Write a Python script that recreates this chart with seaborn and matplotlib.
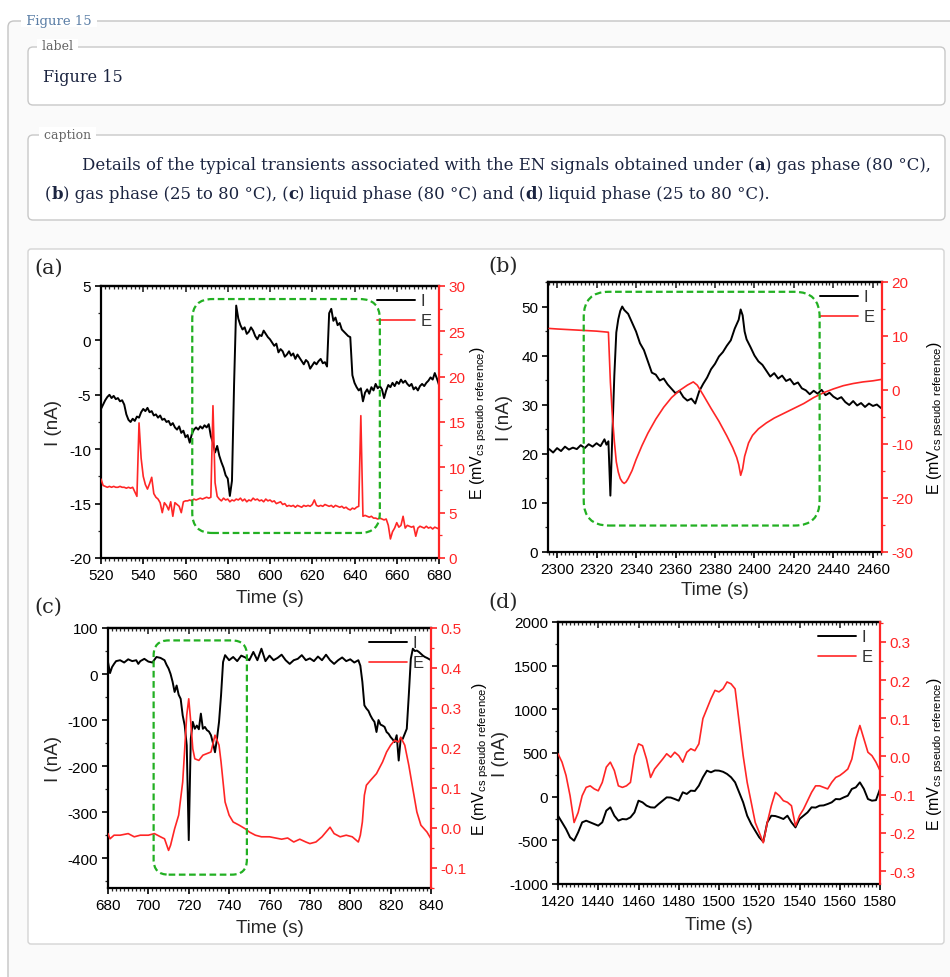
import numpy as np
import matplotlib
matplotlib.use("Agg")
import matplotlib.pyplot as plt
import seaborn as sns
from matplotlib.patches import FancyBboxPatch
from matplotlib.transforms import IdentityTransform
from matplotlib.ticker import MultipleLocator, FormatStrFormatter

# ---------------- data ----------------
# (a) gas phase, 80 C  -- sampled every second
a_time = np.arange(520, 681)
a_I = [-6.3, -5.9, -5.5, -5.2, -5.0, -5.3, -5.1, -5.4, -5.3, -5.6,
       -5.5, -5.9, -6.8, -7.3, -7.5, -7.2, -7.4, -7.0, -7.1, -6.6,
       -6.3, -6.5, -6.2, -6.6, -6.5, -6.9, -6.8, -7.1, -6.9, -7.3,
       -7.2, -7.5, -7.4, -7.8, -7.6, -8.0, -8.2, -7.9, -8.5, -8.3,
       -8.9, -8.7, -9.4, -8.6, -8.2, -8.0, -8.2, -7.9, -8.1, -7.8,
       -8.0, -7.7, -8.8, -9.4, -10.3, -9.7, -10.6, -11.2, -11.7, -12.4,
       -12.7, -14.3, -12.9, -4.0, 3.2, 2.0, 1.4, 1.0, 1.2, 0.6,
       0.8, 1.2, 0.9, 0.4, 0.1, 0.5, 0.4, 0.9, 0.6, 0.3,
       0.1, -0.2, -0.5, -0.3, -1.1, -0.8, -1.0, -1.5, -1.3, -1.0,
       -1.4, -1.2, -1.7, -1.3, -1.6, -1.9, -2.2, -1.8, -2.0, -2.6,
       -2.3, -2.0, -2.2, -1.9, -1.7, -2.1, -2.0, -2.4, 2.5, 2.9,
       1.8, 2.1, 1.4, 1.6, 1.0, 0.8, 0.6, 0.4, 0.3, -3.2,
       -3.9, -4.3, -4.6, -4.4, -5.6, -4.8, -4.5, -4.9, -4.3, -4.6,
       -4.0, -4.4, -4.2, -4.5, -5.3, -4.6, -4.1, -4.3, -3.9, -4.2,
       -3.8, -4.0, -3.6, -3.9, -3.7, -4.0, -4.2, -4.0, -4.5, -4.3,
       -4.6, -4.2, -4.0, -4.2, -3.9, -3.7, -3.4, -3.6, -3.0, -3.5,
       -4.1]
a_E = [8.7, 8.0, 7.9, 7.8, 7.9, 7.8, 7.9, 7.8, 7.8, 7.9,
       7.8, 7.8, 7.7, 7.8, 7.7, 7.8, 7.3, 6.8, 14.9, 11.0,
       9.0, 8.1, 7.6, 8.2, 8.9, 7.1, 6.7, 6.5, 6.1, 5.0,
       6.1, 5.8, 5.3, 6.2, 4.6, 6.1, 5.9, 5.7, 5.0, 6.2,
       6.3, 6.3, 6.4, 6.3, 6.5, 6.4, 6.5, 6.6, 6.5, 6.6,
       6.7, 6.6, 6.7, 16.8, 8.3, 6.8, 6.5, 6.3, 6.6, 6.4,
       6.5, 6.2, 6.4, 6.3, 6.5, 6.4, 6.6, 6.3, 6.5, 6.2,
       6.4, 6.3, 6.6, 6.4, 6.5, 6.3, 6.4, 6.2, 6.5, 6.3,
       6.4, 6.2, 6.3, 6.0, 6.1, 6.2, 5.9, 6.0, 5.7, 5.8,
       5.7, 5.8, 5.6, 5.8, 5.7, 5.6, 5.8, 5.7, 5.8, 5.7,
       5.9, 6.4, 5.8, 5.7, 5.8, 5.7, 5.9, 5.8, 5.7, 5.8,
       5.6, 5.8, 5.7, 5.6, 5.7, 5.5, 5.6, 5.4, 5.3, 5.5,
       5.4, 5.6, 5.7, 15.7, 4.6, 4.7, 4.6, 4.5, 4.6, 4.4,
       4.4, 4.3, 4.4, 4.3, 4.2, 4.3, 3.6, 2.1, 2.9, 3.3,
       3.9, 3.4, 3.6, 4.6, 3.3, 3.6, 3.5, 3.4, 3.5, 2.4,
       3.3, 3.5, 3.4, 3.3, 3.5, 3.3, 3.4, 3.2, 3.4, 3.3,
       3.2]
a_box = [563.2, 652.0, -17.7, 3.8]

# (b) gas phase, 25 to 80 C
b_I_time = [2296, 2298, 2300, 2302, 2304, 2306, 2308, 2310, 2312, 2314,
            2316, 2318, 2320, 2322, 2324, 2325, 2326, 2327, 2328, 2329,
            2330, 2331, 2332, 2333, 2334, 2336, 2338, 2340, 2342, 2344,
            2346, 2348, 2350, 2352, 2354, 2356, 2358, 2360, 2362, 2364,
            2366, 2368, 2370, 2372, 2374, 2376, 2378, 2380, 2382, 2384,
            2386, 2388, 2390, 2392, 2393, 2394, 2395, 2396, 2398, 2400,
            2402, 2404, 2406, 2408, 2410, 2412, 2414, 2416, 2418, 2420,
            2422, 2424, 2426, 2428, 2430, 2432, 2434, 2436, 2438, 2440,
            2442, 2444, 2446, 2448, 2450, 2452, 2454, 2456, 2458, 2460,
            2462, 2464, 2465]
b_I = [21.0, 20.3, 21.2, 20.6, 21.5, 20.9, 21.3, 21.0, 21.8, 21.2,
       22.0, 21.5, 22.2, 21.6, 23.0, 21.9, 22.6, 11.5, 24.0, 36.0,
       44.8, 47.5, 49.2, 50.1, 49.4, 48.6, 46.8, 45.0, 42.6, 41.2,
       38.9, 36.6, 36.2, 35.0, 35.4, 34.2, 33.3, 32.4, 32.9, 31.6,
       30.9, 31.3, 30.3, 32.8, 34.3, 35.6, 37.3, 38.4, 39.9, 40.8,
       42.1, 43.2, 45.6, 47.4, 49.5, 48.3, 45.0, 43.4, 41.8, 40.1,
       38.9, 38.2, 37.0, 35.8, 36.5, 35.4, 36.0, 34.9, 35.3, 34.2,
       34.6, 33.4, 33.0, 32.2, 32.9, 32.3, 33.1, 32.0, 32.5, 31.7,
       31.2, 31.6, 30.6, 30.0, 30.8, 29.9, 30.4, 29.6, 30.3, 29.8,
       30.1, 29.4, 29.6]
b_E_time = [2296, 2300, 2305, 2310, 2315, 2320, 2326, 2327, 2328, 2329,
            2330, 2331, 2332, 2333, 2334, 2335, 2336, 2338, 2340, 2343,
            2346, 2350, 2354, 2358, 2362, 2366, 2369, 2371, 2374, 2378,
            2382, 2386, 2389, 2391, 2392, 2393, 2394, 2395, 2397, 2399,
            2402, 2406, 2410, 2415, 2420, 2425, 2430, 2435, 2440, 2445,
            2450, 2455, 2460, 2465]
b_E = [11.4, 11.3, 11.2, 11.1, 11.0, 10.9, 10.7, 1.5, -4.7, -9.5,
       -13.3, -15.2, -16.4, -17.0, -17.3, -17.0, -16.4, -14.9, -12.9, -10.3,
       -8.0, -5.4, -3.2, -1.4, -0.1, 0.9, 1.5, 0.9, -0.9, -3.4,
       -5.8, -8.5, -10.7, -12.5, -13.8, -15.8, -14.6, -12.3, -9.8, -8.4,
       -7.2, -6.1, -5.2, -4.3, -3.4, -2.5, -1.4, -0.5, 0.2, 0.8,
       1.2, 1.5, 1.7, 2.0]
b_box = [2313.5, 2433.0, 5.4, 53.1]

# (c) liquid phase, 80 C
c_I_time = [680, 681, 682, 683, 684, 686, 688, 690, 692, 694,
            695, 696, 698, 700, 702, 704, 706, 708, 709, 710,
            711, 712, 713, 714, 715, 716, 717, 718, 719, 720,
            721, 722, 723, 724, 725, 726, 727, 728, 729, 730,
            731, 732, 733, 734, 735, 736, 737, 738, 740, 742,
            744, 746, 748, 750, 752, 754, 756, 758, 760, 762,
            764, 766, 768, 770, 772, 774, 776, 778, 780, 782,
            784, 786, 788, 790, 792, 794, 796, 798, 800, 802,
            804, 805, 806, 807, 808, 809, 810, 811, 812, 813,
            814, 815, 816, 817, 818, 819, 820, 821, 822, 823,
            824, 825, 826, 827, 828, 829, 830, 831, 832, 833,
            834, 835, 836, 837, 838, 840]
c_I = [26, 2, 15, 22, 28, 30, 25, 32, 28, 30,
       22, 28, 33, 27, 25, 37, 35, 30, 20, 12,
       0, -17, -39, -25, -45, -54, -90, -112, -155, -361,
       -141, -104, -119, -112, -120, -86, -119, -115, -122, -125,
       -133, -150, -170, -140, -104, -46, 26, 41, 30, 37,
       28, 40, 36, 30, 48, 30, 55, 28, 40, 30,
       35, 42, 30, 22, 30, 33, 41, 30, 34, 28,
       38, 30, 42, 30, 22, 30, 36, 28, 32, 25,
       30, 18, -17, -68, -75, -80, -90, -98, -104, -126,
       -100, -110, -112, -115, -126, -130, -137, -142, -148, -133,
       -188, -140, -141, -130, -119, -46, 33, 55, 50, 51,
       48, 44, 40, 37, 35, 30]
c_E_time = [680, 681, 683, 686, 690, 693, 696, 700, 703, 706,
            708, 710, 711, 713, 715, 717, 718, 719, 720, 721,
            722, 723, 725, 727, 729, 731, 733, 735, 736, 737,
            738, 740, 742, 745, 748, 750, 753, 756, 760, 763,
            766, 769, 772, 775, 778, 780, 783, 786, 788, 790,
            792, 795, 798, 801, 804, 805, 806, 807, 808, 810,
            813, 816, 818, 820, 822, 824, 825, 827, 829, 831,
            833, 835, 838, 840]
c_E = [-0.014, -0.027, -0.018, -0.018, -0.014, -0.022, -0.018, -0.018, -0.014, -0.022,
       -0.027, -0.056, -0.043, -0.002, 0.032, 0.115, 0.198, 0.282, 0.323, 0.265,
       0.198, 0.173, 0.169, 0.182, 0.186, 0.190, 0.232, 0.207, 0.165, 0.115,
       0.065, 0.032, 0.015, 0.007, -0.002, -0.010, -0.018, -0.022, -0.022, -0.025,
       -0.028, -0.025, -0.035, -0.028, -0.035, -0.039, -0.035, -0.022, -0.010, 0.002,
       -0.014, -0.022, -0.018, -0.022, -0.035, -0.018, 0.015, 0.082, 0.107, 0.119,
       0.136, 0.165, 0.190, 0.207, 0.219, 0.215, 0.227, 0.207, 0.157, 0.098,
       0.040, 0.007, -0.010, -0.027]
c_box = [702.6, 748.8, -436.0, 73.0]

# (d) liquid phase, 25 to 80 C
d_time = [1420, 1422, 1424, 1426, 1428, 1430, 1432, 1434, 1436, 1438,
          1440, 1442, 1444, 1446, 1448, 1450, 1452, 1454, 1456, 1458,
          1460, 1462, 1464, 1466, 1468, 1470, 1472, 1474, 1476, 1478,
          1480, 1482, 1484, 1486, 1488, 1490, 1492, 1494, 1496, 1498,
          1500, 1502, 1504, 1506, 1508, 1510, 1512, 1514, 1516, 1518,
          1520, 1522, 1524, 1526, 1528, 1530, 1532, 1534, 1536, 1538,
          1540, 1542, 1544, 1546, 1548, 1550, 1552, 1554, 1556, 1558,
          1560, 1562, 1564, 1566, 1568, 1570, 1572, 1574, 1576, 1578,
          1580]
d_I = [-218, -294, -371, -466, -504, -409, -294, -275, -294, -313,
       -332, -294, -160, -122, -218, -275, -256, -260, -237, -180,
       -46, -65, -103, -122, -125, -84, -46, -8, -10, -27,
       -46, 50, 31, 69, 65, 126, 222, 298, 279, 300,
       298, 285, 260, 222, 164, 50, -65, -218, -313, -390,
       -466, -516, -294, -218, -222, -237, -256, -218, -294, -352,
       -256, -218, -180, -122, -125, -103, -100, -84, -65, -27,
       -30, -8, 11, 88, 107, 164, 88, -27, -46, -40,
       88]
d_E = [0.007, -0.015, -0.050, -0.103, -0.173, -0.147, -0.103, -0.081, -0.077, -0.085,
       -0.090, -0.068, -0.028, -0.015, -0.037, -0.077, -0.081, -0.077, -0.068, 0.002,
       0.033, 0.028, -0.007, -0.055, -0.033, -0.020, -0.007, 0.007, -0.002, 0.011,
       0.002, -0.015, 0.011, 0.020, 0.015, 0.033, 0.099, 0.125, 0.151, 0.173,
       0.169, 0.177, 0.195, 0.190, 0.177, 0.090, 0.002, -0.068, -0.120, -0.173,
       -0.199, -0.226, -0.173, -0.129, -0.094, -0.103, -0.116, -0.120, -0.129, -0.182,
       -0.155, -0.138, -0.116, -0.094, -0.077, -0.077, -0.081, -0.085, -0.068, -0.055,
       -0.050, -0.042, -0.033, -0.007, 0.046, 0.081, 0.046, 0.011, 0.002, -0.015,
       -0.037]

caption_1 = [("Details of the typical transients associated with the EN signals obtained under (", "normal"),
             ("a", "bold"), (") gas phase (80 °C),", "normal")]
caption_2 = [("(", "normal"), ("b", "bold"), (") gas phase (25 to 80 °C), (", "normal"),
             ("c", "bold"), (") liquid phase (80 °C) and (", "normal"),
             ("d", "bold"), (") liquid phase (25 to 80 °C).", "normal")]

# ---------------- figure ----------------
sns.set_style("ticks")
plt.rcParams['font.family'] = ['Liberation Sans', 'DejaVu Sans']
plt.rcParams['axes.unicode_minus'] = False

W, H = 950, 978
fig = plt.figure(figsize=(W / 100, H / 100), dpi=100)
RED = '#ff2626'
SERIF = 'DejaVu Serif'


def px_box(x0, y0, x1, y1, r, ec, fc, lw=1.0):
    p = FancyBboxPatch((x0, H - y1), x1 - x0, y1 - y0,
                       boxstyle=f"round,pad=0,rounding_size={r}",
                       ec=ec, fc=fc, lw=lw, transform=IdentityTransform(), zorder=0)
    fig.add_artist(p)


def px_text(x, y, s, **kw):
    return fig.text(x / W, 1 - y / H, s, **kw)


def rich(x, y, parts, size, color):
    r = fig.canvas.get_renderer()
    for s, w in parts:
        t = px_text(x, y, s, fontsize=size, fontweight=w, color=color,
                    family=SERIF, va='center', ha='left')
        x += t.get_window_extent(r).width


# page frames
px_box(8, 22, 990, 1010, 6, '#c4c4c4', '#fafafa')
px_box(28, 48, 945, 106, 5, '#c8c8c8', 'white')
px_box(28, 136, 945, 221, 5, '#c8c8c8', 'white')
px_box(28, 250, 944, 945, 3, '#d4d4d4', 'white')
px_text(22, 21, " Figure 15 ", fontsize=9.5, color='#5b7ea6', family=SERIF, va='center',
        ha='left', bbox=dict(fc='white', ec='none', pad=0.5))
px_text(38, 47, " label ", fontsize=9, color='#666666', family=SERIF, va='center',
        ha='left', bbox=dict(fc='white', ec='none', pad=0.5))
px_text(40, 135, " caption ", fontsize=9, color='#666666', family=SERIF, va='center',
        ha='left', bbox=dict(fc='white', ec='none', pad=0.5))
px_text(43, 77, "Figure 15", fontsize=11.5, color='#1b2440', family=SERIF, va='center', ha='left')
rich(82, 166, caption_1, 11.9, '#1b2440')
rich(45, 195, caption_2, 11.9, '#1b2440')


def panel(rect, ti, yi, te, ye, xlim, ylim, ylim2, ymaj, ymin, y2maj, y2min, y2fmt,
          ylab_x, y2lab_x, xlab_y, tag, tag_xy, box=None, rad=20):
    x0, y0, x1, y1 = rect
    ax = fig.add_axes([x0 / W, 1 - y1 / H, (x1 - x0) / W, (y1 - y0) / H])
    ax2 = ax.twinx()
    sns.lineplot(x=ti, y=yi, ax=ax, color='black', lw=1.4, label='I', legend=False,
                 sort=False, estimator=None)
    sns.lineplot(x=te, y=ye, ax=ax2, color=RED, lw=1.2, label='E', legend=False,
                 sort=False, estimator=None)
    ax.set_xlim(*xlim)
    ax.set_ylim(*ylim)
    ax2.set_ylim(*ylim2)

    ax.xaxis.set_major_locator(MultipleLocator(20))
    ax.xaxis.set_minor_locator(MultipleLocator(2))
    ax.yaxis.set_major_locator(MultipleLocator(ymaj))
    ax.yaxis.set_minor_locator(MultipleLocator(ymin))
    ax2.yaxis.set_major_locator(MultipleLocator(y2maj))
    ax2.yaxis.set_minor_locator(MultipleLocator(y2min))
    ax2.yaxis.set_major_formatter(FormatStrFormatter(y2fmt))

    for s in ['left', 'bottom', 'top']:
        ax.spines[s].set_linewidth(1.6)
        ax.spines[s].set_color('black')
    ax.spines['right'].set_visible(False)
    for s in ['left', 'bottom', 'top']:
        ax2.spines[s].set_visible(False)
    ax2.spines['right'].set_color(RED)
    ax2.spines['right'].set_linewidth(1.6)

    ax.tick_params(axis='both', which='major', direction='out', length=4.5, width=1.2,
                   labelsize=11, pad=2.5, colors='black')
    ax.tick_params(axis='both', which='minor', direction='out', length=2.5, width=0.9)
    ax2.tick_params(axis='y', which='major', direction='out', length=4.5, width=1.2,
                    labelsize=11, pad=2.5, colors=RED)
    ax2.tick_params(axis='y', which='minor', direction='out', length=2.5, width=0.9, colors=RED)

    top = ax.secondary_xaxis('top')
    top.xaxis.set_major_locator(MultipleLocator(20))
    top.xaxis.set_minor_locator(MultipleLocator(2))
    top.tick_params(which='major', direction='in', length=4, width=1.2, labeltop=False)
    top.tick_params(which='minor', direction='in', length=2.5, width=0.9)
    top.spines['top'].set_linewidth(1.6)

    ax.set_xlabel("Time (s)", fontsize=13.5)
    ax.set_ylabel("I (nA)", fontsize=13.5)
    ax2.set_ylabel(r"E (mV$_{\mathregular{cs\ pseudo\ reference}}$)", fontsize=11.5, color='black')
    ax.xaxis.set_label_coords(0.5, (y1 - xlab_y) / (y1 - y0))
    ax.yaxis.set_label_coords((ylab_x - x0) / (x1 - x0), 0.5)
    ax2.yaxis.set_label_coords((y2lab_x - x0) / (x1 - x0), 0.5)
    ax.grid(False)
    ax2.grid(False)

    leg = ax2.legend([ax.lines[0], ax2.lines[0]], ['I', 'E'], loc='upper right',
                     frameon=False, fontsize=12, handlelength=2.3, handletextpad=0.3,
                     labelspacing=0.3, borderaxespad=0.25, borderpad=0.2)
    for t in leg.get_texts():
        t.set_color('#333333')

    px_text(tag_xy[0], tag_xy[1], tag, fontsize=15, family=SERIF, va='center', ha='left')

    if box is not None:
        bx0, by0 = ax.transData.transform((box[0], box[2]))
        bx1, by1 = ax.transData.transform((box[1], box[3]))
        p = FancyBboxPatch((bx0, by0), bx1 - bx0, by1 - by0,
                           boxstyle=f"round,pad=0,rounding_size={rad}",
                           ec='#22b022', fc='none', lw=1.6, ls=(0, (3, 1.6)),
                           transform=IdentityTransform(), zorder=5)
        fig.add_artist(p)
    return ax, ax2


panel((101, 287, 439, 559), a_time, a_I, a_time, a_E, (520, 680), (-20, 5), (0, 30),
      5, 2.5, 5, 2.5, '%g', 62, 468, 590, '(a)', (34, 268), a_box, 20)
panel((548, 283, 882, 553), b_I_time, b_I, b_E_time, b_E, (2295.4, 2464.6), (0, 55.1), (-30, 20),
      10, 5, 10, 5, '%g', 513, 925, 582, '(b)', (488, 266), b_box, 25)
panel((108, 629, 431, 889), c_I_time, c_I, c_E_time, c_E, (680, 840), (-465, 100), (-0.15, 0.5),
      100, 50, 0.1, 0.05, '%.1f', 62, 470, 920, '(c)', (34, 607), c_box, 15)
panel((558, 623, 880, 885), d_time, d_I, d_time, d_E, (1420, 1580), (-1000, 2000), (-0.334, 0.352),
      500, 250, 0.1, 0.05, '%.1f', 509, 925, 917, '(d)', (488, 602))

fig.savefig("out.png", dpi=100)
